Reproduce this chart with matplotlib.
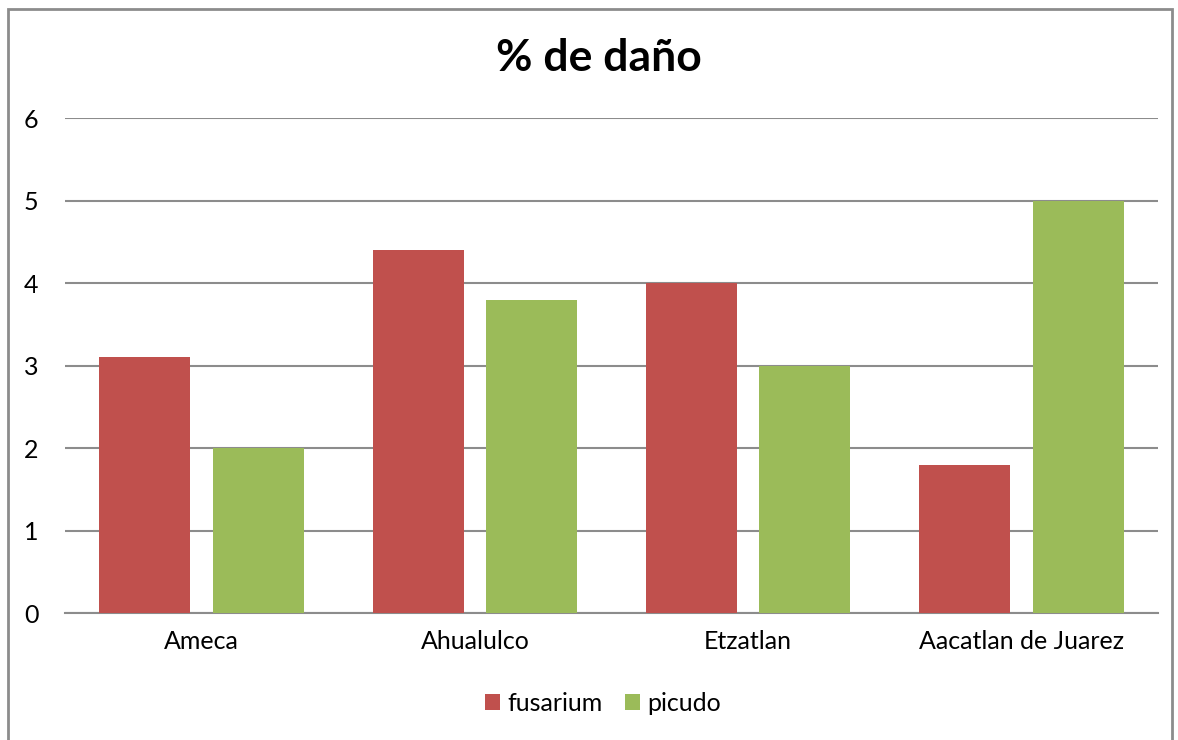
import numpy as np
import matplotlib.pyplot as plt
from matplotlib.patches import Rectangle

places = ["Ameca", "Ahualulco", "Etzatlan", "Aacatlan de Juarez"]
fusarium = [3.1, 4.4, 4.0, 1.8]
picudo = [2.0, 3.8, 3.0, 5.0]

plt.rcParams['font.family'] = ['Lato', 'DejaVu Sans']

fig = plt.figure(figsize=(11.78, 7.40), dpi=100)
ax = fig.add_axes([0.0552, 0.1716, 0.9278, 0.6689])

x = np.arange(len(places))
w = 0.333
ax.bar(x - 0.208, fusarium, w, color="#C0504D", label="fusarium", zorder=3)
ax.bar(x + 0.208, picudo, w, color="#9BBB59", label="picudo", zorder=3)

ax.set_xlim(-0.5, len(places) - 0.5)
ax.set_ylim(0, 6)
ax.set_yticks(range(7))
ax.set_xticks(x)
ax.set_xticklabels(places)
ax.tick_params(length=0, labelsize=18, pad=12, colors="black")
ax.tick_params(axis="y", pad=19)
ax.grid(axis="y", color="#8c8c8c", linewidth=1.5, zorder=0)
for s in ["top", "right", "left"]:
    ax.spines[s].set_visible(False)
ax.spines["bottom"].set_color("#8c8c8c")
ax.spines["bottom"].set_linewidth(1.5)

fig.text(0.508, 0.922, "% de daño", ha="center", va="center", fontsize=32, fontweight="bold")

fig.legend(loc="center", bbox_to_anchor=(0.512, 0.049), ncol=2, frameon=False,
           fontsize=18, handlelength=0.6, handleheight=0.6, handletextpad=0.3,
           columnspacing=0.9)

fig.patches.append(Rectangle((8 / 1178, -0.01), 1164 / 1178, 1.005 - 5 / 740,
                             transform=fig.transFigure, fill=False,
                             edgecolor="#8c8c8c", linewidth=2))

fig.savefig("out.png", dpi=100)
